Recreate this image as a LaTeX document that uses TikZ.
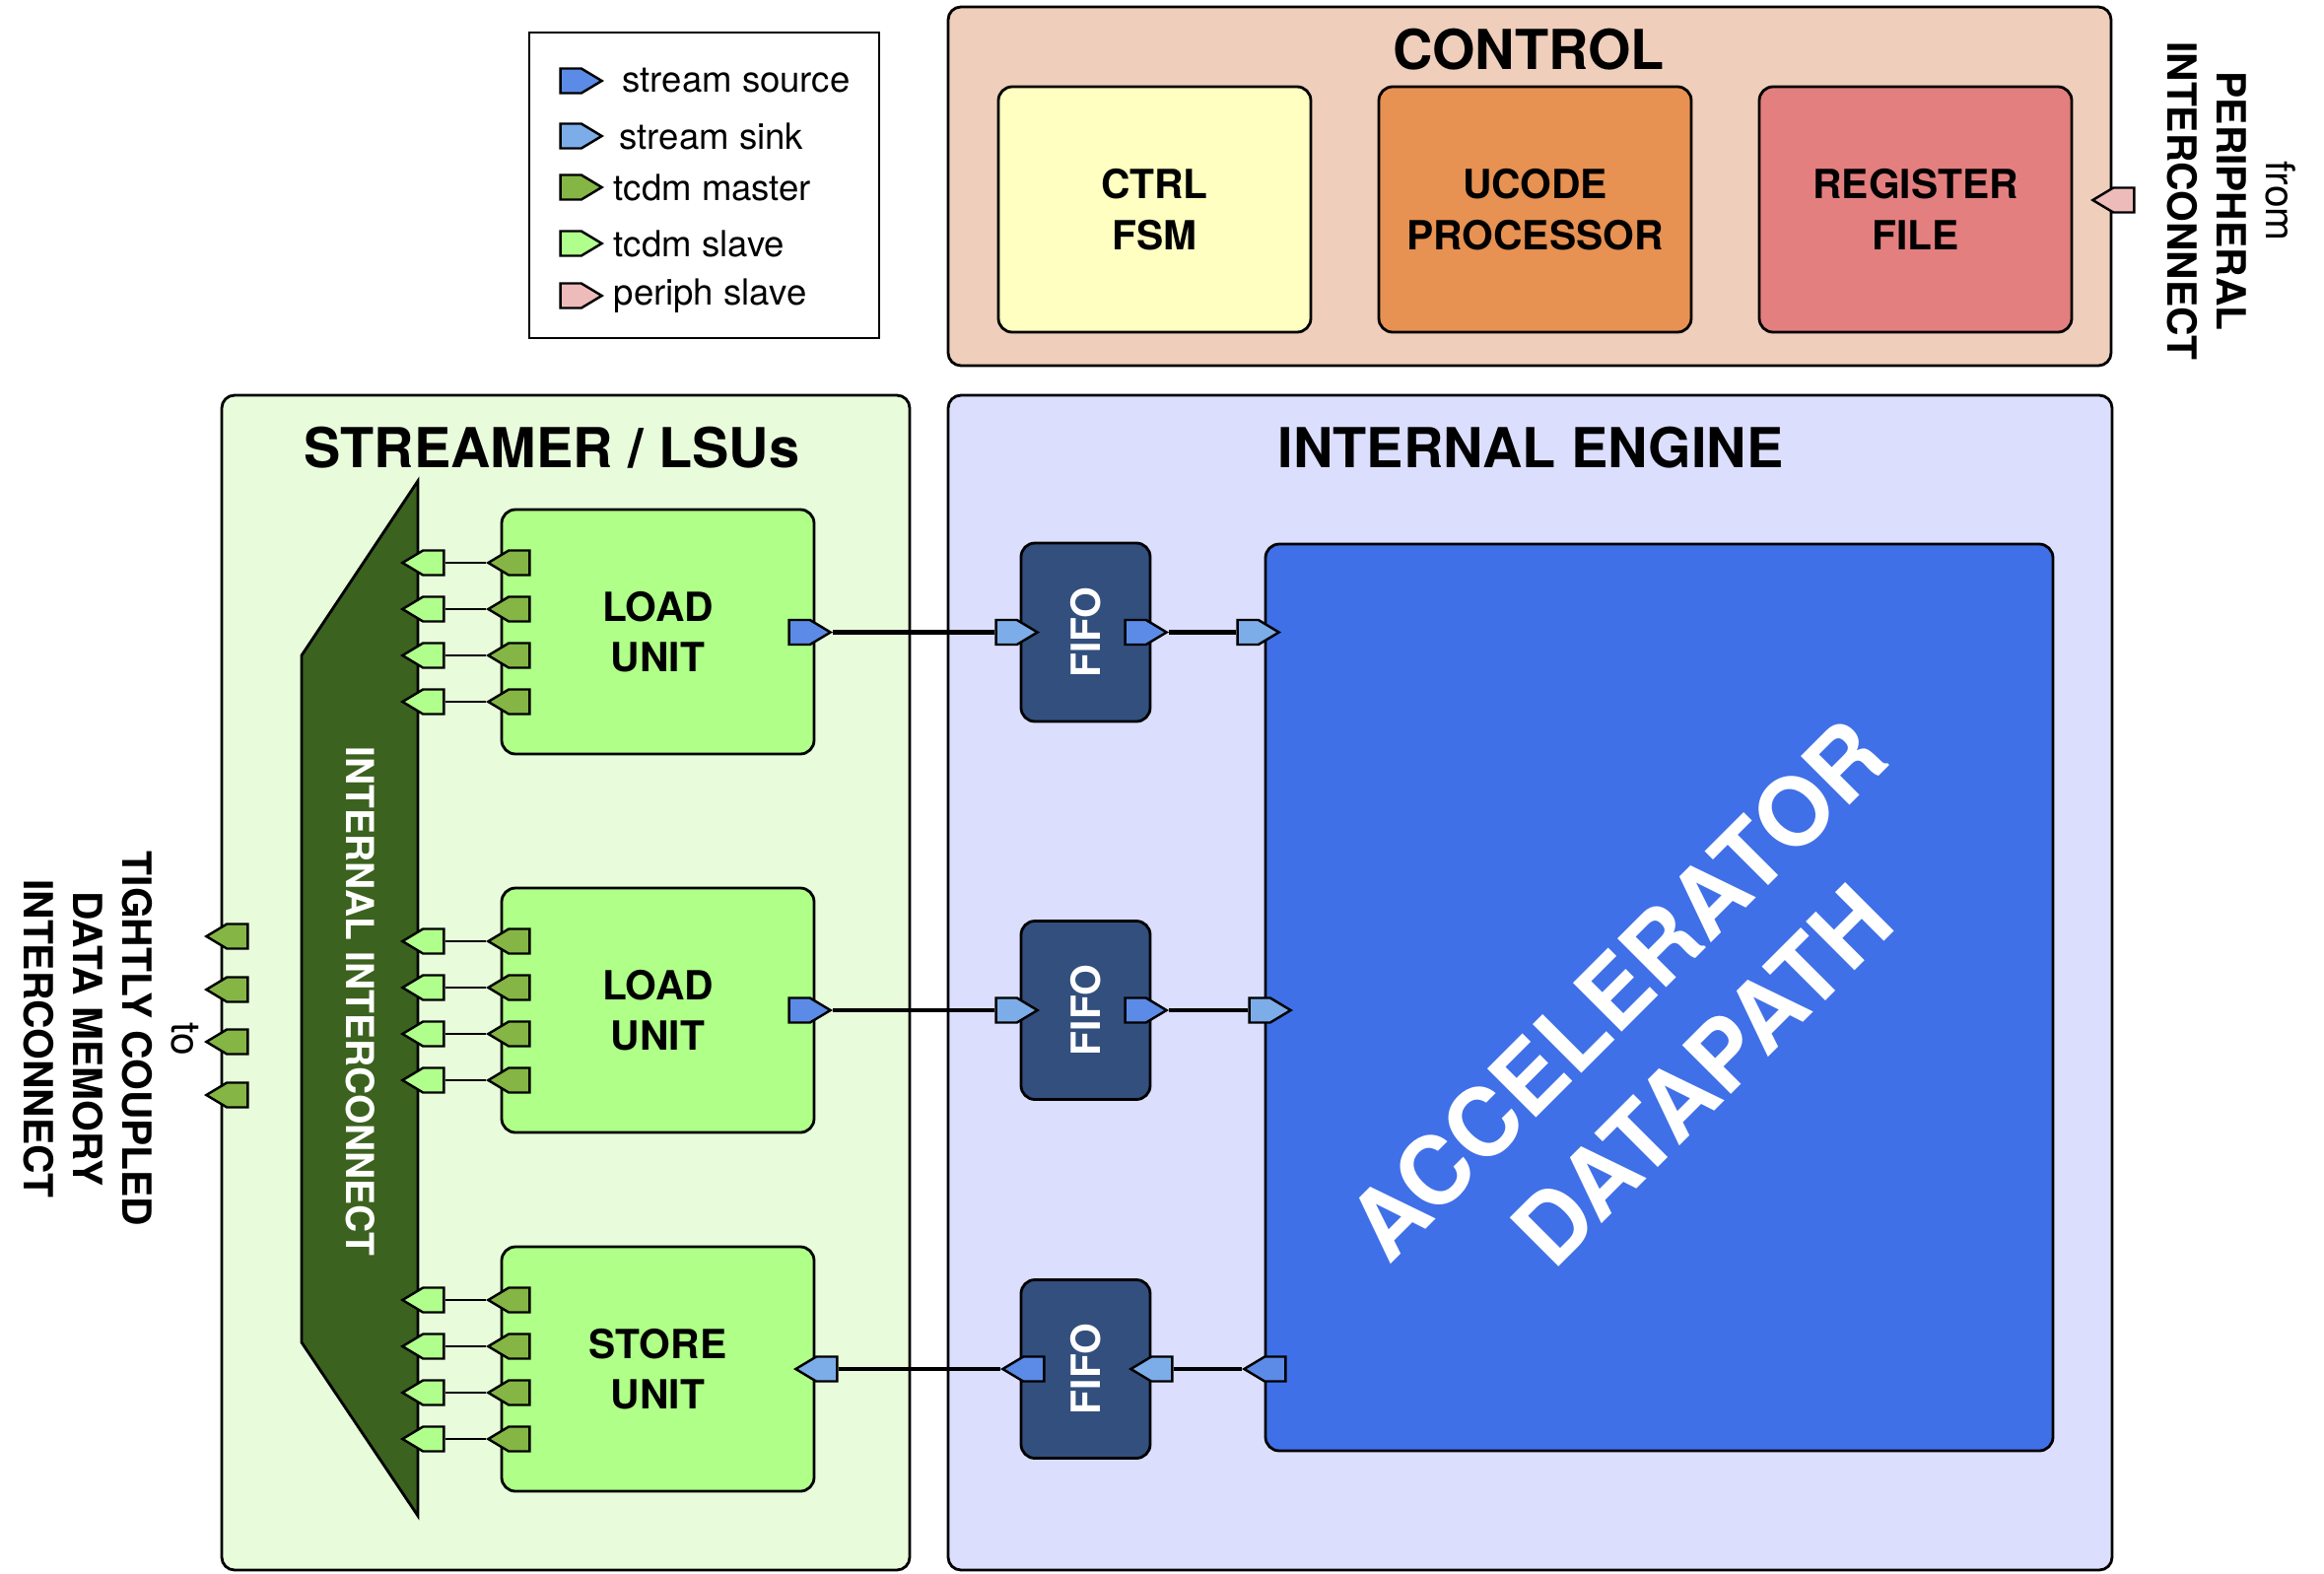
\documentclass[tikz,border=0pt]{standalone}
\usepackage{fontspec}
\setmainfont{TeX Gyre Heros}
\usetikzlibrary{shapes.symbols}

\definecolor{ctrlbg}{HTML}{EFCEBB}
\definecolor{fsmc}{HTML}{FFFFC2}
\definecolor{ucodec}{HTML}{E79152}
\definecolor{regc}{HTML}{E47F7F}
\definecolor{strbg}{HTML}{E8FCDC}
\definecolor{engbg}{HTML}{DBDEFD}
\definecolor{unitc}{HTML}{AFFF88}
\definecolor{icoc}{HTML}{3B621F}
\definecolor{tcdmmc}{HTML}{84B545}
\definecolor{tcdmsc}{HTML}{B0FF8C}
\definecolor{ssrcc}{HTML}{5B8BE6}
\definecolor{ssnkc}{HTML}{7DADE8}
\definecolor{perc}{HTML}{EEBBBB}
\definecolor{fifoc}{HTML}{334F7E}
\definecolor{dpc}{HTML}{4070E8}

\tikzset{
  group/.style={draw, line width=0.8pt, rounded corners=1.3mm, inner sep=0pt},
  block/.style={draw, line width=0.8pt, rounded corners=1.4mm, inner sep=0pt,
    font=\fontsize{11.6}{14.6}\selectfont\bfseries, align=center},
  title/.style={font=\fontsize{15.9}{19}\selectfont\bfseries, inner sep=0pt},
  lbl/.style={font=\fontsize{11.6}{14.2}\selectfont\bfseries, align=center, inner sep=0pt},
  port/.style={signal, draw, line width=0.7pt, inner sep=0pt,
    minimum width=4.2mm, minimum height=2.5mm, signal pointer angle=62},
  toE/.style={port, signal to=east, anchor=east},
  toW/.style={port, signal to=west, anchor=west},
  stream/.style={line width=1.2pt},
  tcdm/.style={line width=0.6pt},
}

\begin{document}
\begin{tikzpicture}[x=0.1mm, y=-0.1mm]
    \useasboundingbox (0,0) rectangle (2358,1597);
    % Group boxes
    \node[group, fill=ctrlbg, minimum width=118mm, minimum height=36.4mm] (ctrl) at (1552,189) {};
    \node[group, fill=strbg, minimum width=69.8mm, minimum height=119.2mm] (str) at (574,997) {};
    \node[group, fill=engbg, minimum width=118.1mm, minimum height=119.2mm] (eng) at (1552.5,997) {};
    \node[title] (ctrlT) at (1551,50) {CONTROL};
    \node[title] (strT) at (560,454) {STREAMER / LSUs};
    \node[title] (engT) at (1553,454) {INTERNAL ENGINE};
    % Legend
    \node[draw, line width=0.8pt, minimum width=35.5mm, minimum height=31mm] (legend) at (714.5,188) {};
    \foreach \c/\yy/\xx/\t [count=\i] in {ssrcc/82/631/stream source, ssnkc/138/628/stream sink,
        tcdmmc/190/622/tcdm master, tcdmsc/247/622/tcdm slave, perc/300/622/periph slave} {
        \node[toE, fill=\c] (leg\i) at (613,\yy) {};
        \node[anchor=west, inner sep=0pt, font=\fontsize{10.4}{12}\selectfont] (legT\i) at (\xx,\yy) {\t};
    }
    % Control blocks
    \node[block, fill=fsmc, minimum width=31.7mm, minimum height=24.9mm] (fsm) at (1171.5,212.5) {CTRL\\FSM};
    \node[block, fill=ucodec, minimum width=31.7mm, minimum height=24.9mm] (ucode) at (1557.5,212.5) {UCODE\\PROCESSOR};
    \node[block, fill=regc, minimum width=31.7mm, minimum height=24.9mm] (regfile) at (1943.5,212.5) {REGISTER\\FILE};
    \node[toW, fill=perc] (per) at (2121,203) {};
    \node[lbl, rotate=-90] (perT) at (2264,204) {{\mdseries from}\\PERIPHERAL\\INTERCONNECT};
    % Internal interconnect
    \draw[line width=0.8pt, fill=icoc] (424,488) -- (306,665) -- (306,1362) -- (424,1538) -- cycle;
    \node[lbl, rotate=-90, text=white, font=\fontsize{11.1}{14}\selectfont\bfseries] (icoT) at (366,1016) {INTERNAL INTERCONNECT};
    % TCDM ports to the outside
    \foreach \k/\yy in {0/950,1/1004,2/1057,3/1111}
        \node[toW, fill=tcdmmc] (ext\k) at (207,\yy) {};
    \node[lbl, rotate=-90] (extT) at (113,1054) {{\mdseries to}\\TIGHTLY COUPLED\\DATA MEMORY\\INTERCONNECT};
    % Load / store units
    \foreach \u/\t/\name in {lu1/517/LOAD, lu2/901/LOAD, su/1265/STORE} {
        \node[block, fill=unitc, minimum width=31.7mm, minimum height=24.8mm] (\u) at (667.5,\t+124) {\name\\UNIT};
        \foreach \k in {0,...,3} {
            \pgfmathsetmacro\yy{\t+54+47*\k}
            \node[toW, fill=tcdmsc] (\u-s\k) at (406,\yy) {};
            \node[toW, fill=tcdmmc] (\u-m\k) at (493,\yy) {};
            \draw[tcdm] (\u-s\k.east) -- (\u-m\k.west);
        }
    }
    % FIFOs and datapath
    \node[block, fill=dpc, minimum width=79.9mm, minimum height=92mm] (dp) at (1683.5,1012) {};
    \node[rotate=45, text=white, align=center, inner sep=0pt,
        font=\fontsize{27.3}{35}\selectfont\bfseries] (dpT) at (1683,1047) {ACCELERATOR\\DATAPATH};
    \foreach \f/\yy in {f1/641.5, f2/1025, f3/1389}
        \node[block, fill=fifoc, text=white, minimum width=13.1mm, minimum height=18.1mm] (\f) at (1101.5,\yy) {\rotatebox{90}{FIFO}};
    % Stream ports, loads
    \node[toE, fill=ssrcc] (lu1o) at (845,641.5) {};
    \node[toE, fill=ssnkc] (f1i) at (1055,641.5) {};
    \node[toE, fill=ssrcc] (f1o) at (1186,641.5) {};
    \node[toE, fill=ssnkc] (dp1i) at (1300,641.5) {};
    \node[toE, fill=ssrcc] (lu2o) at (845,1025) {};
    \node[toE, fill=ssnkc] (f2i) at (1055,1025) {};
    \node[toE, fill=ssrcc] (f2o) at (1186,1025) {};
    \node[toE, fill=ssnkc] (dp2i) at (1312,1025) {};
    % Stream ports, store
    \node[toW, fill=ssnkc] (sui) at (805,1389) {};
    \node[toW, fill=ssrcc] (f3o) at (1015,1389) {};
    \node[toW, fill=ssnkc] (f3i) at (1145,1389) {};
    \node[toW, fill=ssrcc] (dp3o) at (1260,1389) {};
    % Streams
    \draw[stream] (lu1o.east) -- (f1i.west);
    \draw[stream] (f1o.east) -- (dp1i.west);
    \draw[stream] (lu2o.east) -- (f2i.west);
    \draw[stream] (f2o.east) -- (dp2i.west);
    \draw[stream] (dp3o.west) -- (f3i.east);
    \draw[stream] (f3o.west) -- (sui.east);
\end{tikzpicture}
\end{document}
